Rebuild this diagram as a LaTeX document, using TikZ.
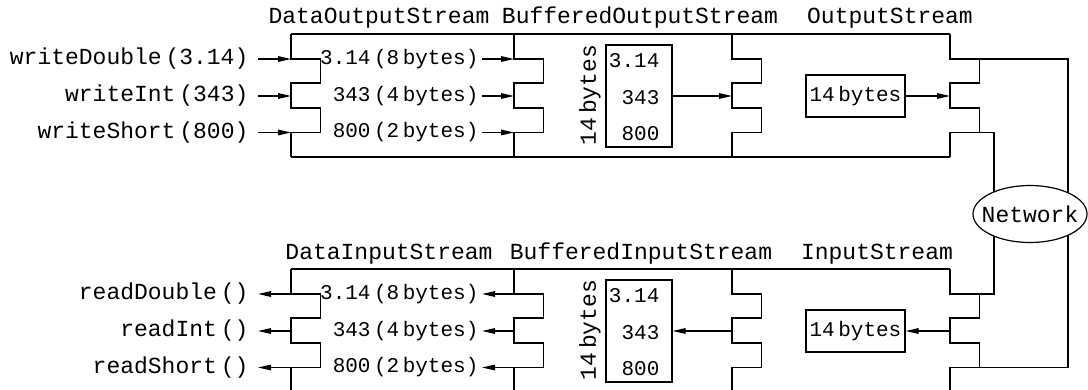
\documentclass[tikz,border=0pt]{standalone}
\usepackage{fontspec}
\setmonofont{Liberation Mono}
\usetikzlibrary{arrows.meta,shapes.geometric}

\begin{document}
\begin{tikzpicture}[x=0.5pt,y=-0.5pt,line width=0.6pt,
		lbl/.style={font=\ttfamily\fontsize{11.5}{14}\selectfont,inner sep=0pt},
		callname/.style={lbl,inner xsep=4.5pt},
		txt/.style={font=\ttfamily\fontsize{10.5}{12}\selectfont,inner sep=0pt},
		bytecount/.style={txt,inner xsep=1.5pt},
		arr/.style={-{Triangle[length=6.5pt,width=2.8pt]}}]
		\useasboundingbox (0,0) rectangle (1088,390);
		\clip (0,0) rectangle (1088,390);

		\foreach \r in {0,235} {
			\draw (291,34+\r) -- (950,34+\r);
			\draw (291,157+\r) -- (950,157+\r);
			\foreach \b in {291,514,732,950}
				\draw (\b,34+\r) -- ++(0,25) -- ++(29.5,0) -- ++(0,24) -- ++(-29.5,0)
					-- ++(0,25) -- ++(29.5,0) -- ++(0,24.5) -- ++(-29.5,0) -- (\b,157+\r);
		}

		\node[lbl,anchor=base](dos) at (379,24) {DataOutputStream};
		\node[lbl,anchor=base](bos) at (640,24) {BufferedOutputStream};
		\node[lbl,anchor=base](os) at (890,24) {OutputStream};
		\node[lbl,anchor=base](dis) at (389,259) {DataInputStream};
		\node[lbl,anchor=base](bis) at (641,259) {BufferedInputStream};
		\node[lbl,anchor=base](ins) at (877,259) {InputStream};

		\coordinate(in1) at (291,59);
		\coordinate(in2) at (291,96);
		\coordinate(in3) at (291,132.5);
		\coordinate(bin1) at (514,59);
		\coordinate(bin2) at (514,96);
		\coordinate(bin3) at (514,132.5);
		\coordinate(oin) at (732,96);
		\coordinate(nin) at (950,96);
		\coordinate(out1) at (291,294);
		\coordinate(out2) at (291,331);
		\coordinate(out3) at (291,367.5);
		\coordinate(bout1) at (514,294);
		\coordinate(bout2) at (514,331);
		\coordinate(bout3) at (514,367.5);
		\coordinate(iout) at (732,331);
		\coordinate(nout) at (950,331);

		\node[callname,anchor=east](wd) at (258,59) {writeDouble\,(3.14)};
		\node[callname,anchor=east](wi) at (258,96) {writeInt\,(343)};
		\node[callname,anchor=east](ws) at (258,132.5) {writeShort\,(800)};
		\node[bytecount,anchor=east](od8) at (482,59) {3.14\,(8\,bytes)};
		\node[bytecount,anchor=east](od4) at (482,96) {343\,(4\,bytes)};
		\node[bytecount,anchor=east](od2) at (482,132.5) {800\,(2\,bytes)};
		\node[draw,minimum width=33pt,minimum height=51pt](obuf) at (639,96) {};
		\node[txt,anchor=east](ob1) at (660,61) {3.14};
		\node[txt,anchor=east](ob2) at (660,97.5) {343};
		\node[txt,anchor=east](ob3) at (660,134) {800};
		\node[lbl,rotate=90](obytes) at (590,95) {14\,bytes};
		\node[draw,txt,minimum width=49.5pt,minimum height=21pt](opkt) at (855.5,96) {14\,bytes};

		\node[callname,anchor=east](rd) at (258,294) {readDouble\,()};
		\node[callname,anchor=east](ri) at (258,331) {readInt\,()};
		\node[callname,anchor=east](rs) at (258,367.5) {readShort\,()};
		\node[bytecount,anchor=east](id8) at (482,294) {3.14\,(8\,bytes)};
		\node[bytecount,anchor=east](id4) at (482,331) {343\,(4\,bytes)};
		\node[bytecount,anchor=east](id2) at (482,367.5) {800\,(2\,bytes)};
		\node[draw,minimum width=33pt,minimum height=51pt](ibuf) at (639,331) {};
		\node[txt,anchor=east](ib1) at (660,296) {3.14};
		\node[txt,anchor=east](ib2) at (660,332.5) {343};
		\node[txt,anchor=east](ib3) at (660,369) {800};
		\node[lbl,rotate=90](ibytes) at (590,330) {14\,bytes};
		\node[draw,txt,minimum width=49.5pt,minimum height=21pt](ipkt) at (855.5,331) {14\,bytes};

		\draw[arr](wd) -- (in1);
		\draw[arr](wi) -- (in2);
		\draw[arr](ws) -- (in3);
		\draw[arr](od8) -- (bin1);
		\draw[arr](od4) -- (bin2);
		\draw[arr](od2) -- (bin3);
		\draw[arr](obuf) -- (oin);
		\draw[arr](opkt) -- (nin);

		\draw[arr](out1) -- (rd);
		\draw[arr](out2) -- (ri);
		\draw[arr](out3) -- (rs);
		\draw[arr](bout1) -- (id8);
		\draw[arr](bout2) -- (id4);
		\draw[arr](bout3) -- (id2);
		\draw[arr](iout) -- (ibuf);
		\draw[arr](nout) -- (ipkt);

		% the cable round to the network
		\coordinate(wa) at (979,59);
		\coordinate(wb) at (979,132.5);
		\coordinate(wc) at (979,294);
		\coordinate(wf) at (979,367.5);
		\coordinate(ncr) at (1068,214);
		\coordinate(ncl) at (994,214);
		\draw(wa) -| (ncr) |- (wf);
		\draw(wb) -| (ncl) |- (wc);
		\node[ellipse,draw,fill=white,lbl,inner xsep=-5pt,minimum width=57pt,minimum height=28.5pt](net) at (1030,214) {Network};
	\end{tikzpicture}
\end{document}
